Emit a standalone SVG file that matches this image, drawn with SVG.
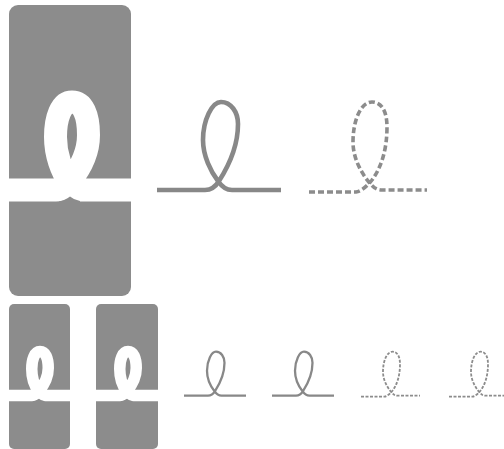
<svg xmlns="http://www.w3.org/2000/svg" width="504" height="449" viewBox="0 0 504 449">
<style>
.panel{fill:#8c8c8c}
.knot{fill:none;stroke-linejoin:round}
.white{stroke:#fff;stroke-width:23}
.solid{stroke:#888;stroke-width:4.6}
.dash{stroke:#8c8c8c;stroke-width:3.6;stroke-dasharray:6 3}
</style>
<defs>
<path id="loopw" d="M8 190L56 190C63 190 67 186 70 181C79 170 88.5 155 88.5 135C88.5 115 83 102 72 102C61 102 55.5 118 55.5 137C55.5 155 62 172 69 181C73 187 77 190 83 190L132 190"/>
<path id="notch" d="M59 203L59 201.5L64 200Q68 198 70 196.5Q74 200 80 201L80 203Z"/>
<path id="loop" d="M157 190L205 190C212 190 216 186 219 181C228 167 238 148 238 124C238 112 231 102 221 102C212 102 203 120 203 140C203 156 211 172 218 181C222 187 226 190 232 190L281 190"/>
<path id="loopd" d="M309 192L356 192C362 191 368 185 372 180C381 168 387 150 387 127C387 112 382 102 372 102C361 102 353 120 353 142C353 158 361 172 368 181C373 187 376 190 382 190L427 190"/>
</defs>
<g id="panel-large">
<rect class="panel" x="9" y="5" width="122" height="291" rx="9"/>
<use href="#loopw" class="knot white"/>
<use href="#notch" class="panel"/>
</g>
<g id="knot-large-solid"><use href="#loop" class="knot solid"/></g>
<g id="knot-large-dashed"><use href="#loopd" class="knot dash"/></g>
<g id="panel-small-1">
<rect class="panel" x="9" y="304" width="61" height="145" rx="5"/>
<use href="#loopw" class="knot white" transform="translate(4 300.5) scale(.5)"/>
<use href="#notch" class="panel" transform="translate(4 300.5) scale(.5)"/>
</g>
<g id="panel-small-2">
<rect class="panel" x="96" y="304" width="62" height="145" rx="5"/>
<use href="#loopw" class="knot white" transform="translate(92 300.5) scale(.5)"/>
<use href="#notch" class="panel" transform="translate(92 300.5) scale(.5)"/>
</g>
<g id="knot-small-solid-1"><use href="#loop" class="knot solid" transform="translate(105.5 300.7) scale(.5)"/></g>
<g id="knot-small-solid-2"><use href="#loop" class="knot solid" transform="translate(193.5 300.7) scale(.5)"/></g>
<g id="knot-small-dashed-1"><use href="#loopd" class="knot dash" transform="translate(206.5 300.7) scale(.5)"/></g>
<g id="knot-small-dashed-2"><use href="#loopd" class="knot dash" transform="translate(294.5 300.7) scale(.5)"/></g>
</svg>
